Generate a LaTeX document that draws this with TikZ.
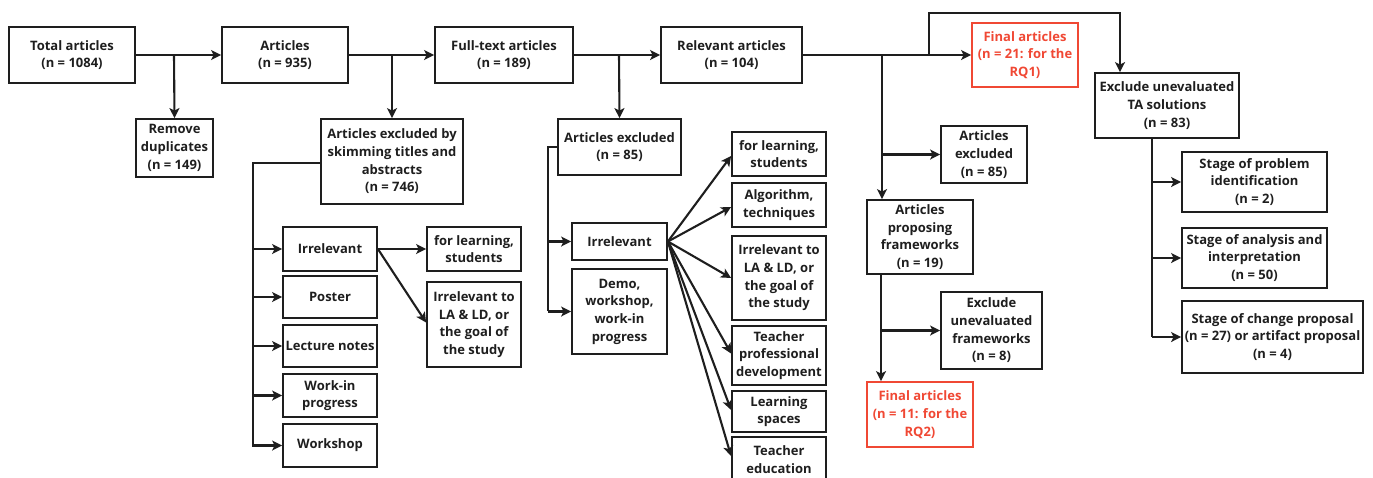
\documentclass[tikz,border=0pt]{standalone}
\usepackage{fontspec}
\setmainfont{Open Sans}
\usetikzlibrary{arrows.meta}
\definecolor{finred}{RGB}{240,72,52}
\definecolor{ink}{RGB}{30,30,30}
\begin{document}
\begin{tikzpicture}[x=1pt,y=-1pt,
  box/.style={draw=ink, line width=1.8pt, inner sep=0pt, align=center, text=ink,
    font=\fontsize{13}{17.7}\selectfont\bfseries},
  redbox/.style={box, draw=finred, text=finred},
  link/.style={draw=ink, line width=2.1pt},
  arr/.style={link, -{Stealth[length=10pt,width=10pt,inset=2.5pt]}}]
\useasboundingbox (0,0) rectangle (1373,477);
% top row
\node[box,minimum width=126pt,minimum height=56pt] (tot) at (72,55) {Total articles\\(n = 1084)};
\node[box,minimum width=126pt,minimum height=56pt] (art) at (285,55) {Articles\\(n = 935)};
\node[box,minimum width=138pt,minimum height=56pt] (full) at (504,55) {Full-text articles\\(n = 189)};
\node[box,minimum width=141pt,minimum height=56pt] (rel) at (731.5,55) {Relevant articles\\(n = 104)};
\node[redbox,minimum width=106pt,minimum height=64pt] (fin1) at (1025,55) {Final articles\\(n = 21: for the\\RQ1)};
% left branches
\node[box,minimum width=77pt,minimum height=58pt] (rem) at (174.5,148) {Remove\\duplicates\\(n = 149)};
\node[box,minimum width=142pt,minimum height=85pt] (skim) at (392,161.5) {Articles excluded by\\skimming titles and\\abstracts\\(n = 746)};
\node[box,minimum width=94pt,minimum height=44pt] (irr1) at (330,249) {Irrelevant};
\node[box,minimum width=94pt,minimum height=42pt] (poster) at (330,297) {Poster};
\node[box,minimum width=94pt,minimum height=42pt] (lect) at (330,346) {Lecture notes};
\node[box,minimum width=94pt,minimum height=43pt] (wip) at (330,395.5) {Work-in\\progress};
\node[box,minimum width=94pt,minimum height=43pt] (ws) at (330,445.5) {Workshop};
\node[box,minimum width=94pt,minimum height=44pt] (fl1) at (474,249) {for learning,\\students};
\node[box,minimum width=94pt,minimum height=85pt] (ila1) at (474,324.5) {Irrelevant to\\LA \& LD, or\\the goal of\\the study};
% middle branches
\node[box,minimum width=123pt,minimum height=56pt] (exc) at (619.5,147) {Articles excluded\\(n = 85)};
\node[box,minimum width=95pt,minimum height=37pt] (irr2) at (619.5,241.5) {Irrelevant};
\node[box,minimum width=95pt,minimum height=85pt] (demo) at (619.5,311.5) {Demo,\\workshop,\\work-in\\progress};
\node[box,minimum width=94pt,minimum height=44pt] (fl2) at (779,154) {for learning,\\students};
\node[box,minimum width=94pt,minimum height=44pt] (alg) at (779,205) {Algorithm,\\techniques};
\node[box,minimum width=94pt,minimum height=84pt] (ila2) at (779,278) {Irrelevant to\\LA \& LD, or\\the goal of\\the study};
\node[box,minimum width=94pt,minimum height=59pt] (tpd) at (779,355.5) {Teacher\\professional\\development};
\node[box,minimum width=94pt,minimum height=41pt] (ls) at (779,411.5) {Learning\\spaces};
\node[box,minimum width=94pt,minimum height=45pt] (te) at (779,459.5) {Teacher\\education};
% right branches
\node[box,minimum width=86pt,minimum height=57pt] (exb) at (984,154.5) {Articles\\excluded\\(n = 85)};
\node[box,minimum width=106pt,minimum height=74pt] (prop) at (920,237) {Articles\\proposing\\frameworks\\(n = 19)};
\node[box,minimum width=101pt,minimum height=77pt] (efw) at (991.5,330.5) {Exclude\\unevaluated\\frameworks\\(n = 8)};
\node[redbox,minimum width=106pt,minimum height=65pt] (fin2) at (920,414.5) {Final articles\\(n = 11: for the\\RQ2)};
\node[box,minimum width=144pt,minimum height=65pt] (ta) at (1167,105.5) {Exclude unevaluated\\TA solutions\\(n = 83)};
\node[box,minimum width=145pt,minimum height=60pt] (sp) at (1254.5,182) {Stage of problem\\identification\\(n = 2)};
\node[box,minimum width=145pt,minimum height=60pt] (sa) at (1254.5,258) {Stage of analysis and\\interpretation\\(n = 50)};
\node[box,minimum width=181pt,minimum height=72pt] (sc) at (1272.5,337) {Stage of change proposal\\(n = 27) or artifact proposal\\(n = 4)};
% helper coordinates
\coordinate (b1) at (174,55);
\coordinate (b2) at (392,55);
\coordinate (b3) at (619,55);
\coordinate (pb) at (882,55);
\coordinate (lp) at (929,55);
\coordinate (lq) at (1120,13);
\coordinate (sk) at (253,447);
\coordinate (ec) at (548,311);
\coordinate (pc) at (881,274);
\coordinate (tb) at (1152,337);
% main flow
\draw[arr] (tot.east) -- (art.west);
\draw[arr] (art.east) -- (full.west);
\draw[arr] (full.east) -- (rel.west);
\draw[arr] (rel.east) -- (fin1.west);
\draw[arr] (b1) -- (rem.north);
\draw[arr] (b2) -- (skim.north);
\draw[arr] (b3) -- (exc.north);
% skimming branch
\draw[link] ([yshift=-1.5pt]skim.west) -| (sk);
\foreach \n in {irr1,poster,lect,wip,ws} \draw[arr] (\n.west -| sk) -- (\n.west);
\draw[arr] (irr1.east) -- (fl1.west);
\draw[arr] (irr1.east) -- ([yshift=2pt]ila1.west);
% excluded branch
\draw[link] (exc.west) -| (ec);
\draw[arr] (irr2.west -| ec) -- (irr2.west);
\draw[arr] (demo.west -| ec) -- (demo.west);
\draw[arr] (irr2.east) -- ([yshift=-2pt]fl2.west);
\draw[arr] (irr2.east) -- ([yshift=-2pt]alg.west);
\draw[arr] (irr2.east) -- (ila2.west);
\draw[arr] (irr2.east) -- ([yshift=2pt]tpd.west);
\draw[arr] (irr2.east) -- ([yshift=1.5pt]ls.west);
\draw[arr] (irr2.east) -- ([yshift=-20pt]te.north west);
% relevant branch
\draw[arr] (pb) -- (pb |- prop.north);
\draw[arr] (pb |- exb.west) -- (exb.west);
\draw[arr] (lp) |- (lq) -- (lq |- ta.north);
\draw[arr] (prop.south -| pc) -- (fin2.north -| pc);
\draw[arr] (efw.west -| pc) -- (efw.west);
% TA branch
\draw[link] (ta.south -| tb) -- (tb);
\draw[arr] (sp.west -| tb) -- (sp.west);
\draw[arr] (sa.west -| tb) -- (sa.west);
\draw[arr] (sc.west -| tb) -- (sc.west);
\end{tikzpicture}
\end{document}
